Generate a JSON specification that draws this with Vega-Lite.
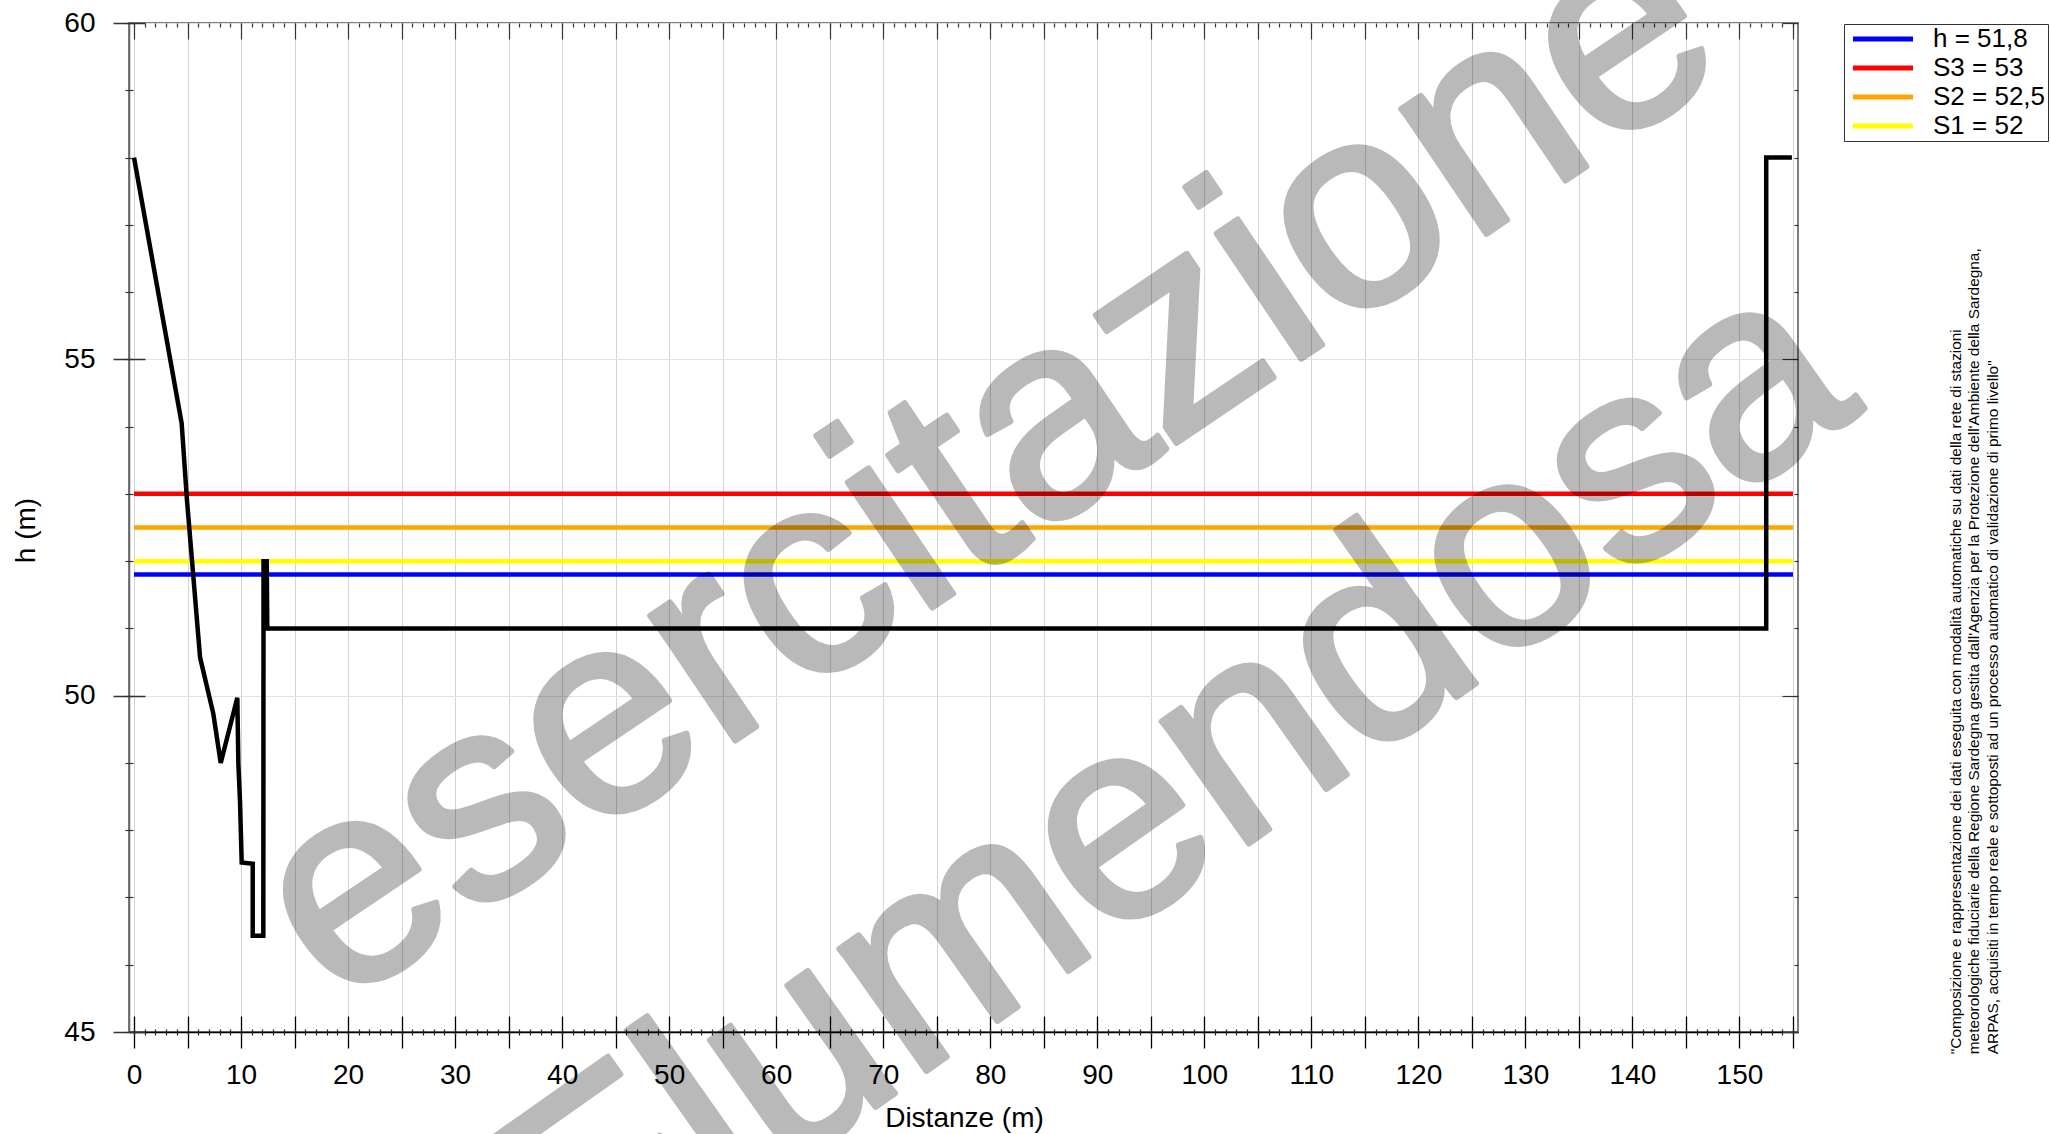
{
  "$schema": "https://vega.github.io/schema/vega-lite/v6.json",
  "width": 1669,
  "height": 1009,
  "autosize": {"type": "none"},
  "padding": {"left": 129, "top": 23, "right": 253, "bottom": 102},
  "background": "white",
  "config": {
    "view": {"stroke": "#555555", "strokeWidth": 1.5},
    "axis": {"labelFont": "Liberation Sans", "titleFont": "Liberation Sans", "labelColor": "#000000", "titleColor": "#000000", "tickColor": "#333333", "tickWidth": 1.2, "titleFontWeight": "normal"},
    "legend": {"labelFont": "Liberation Sans"}
  },
  "resolve": {"axis": {"x": "independent", "y": "independent"}},
  "layer": [
    {
      "data": {"values": [
        {"label": "h = 51,8", "h": 51.8},
        {"label": "S3 = 53", "h": 53},
        {"label": "S2 = 52,5", "h": 52.5},
        {"label": "S1 = 52", "h": 52}
      ]},
      "mark": {"type": "rule", "strokeWidth": 4.5},
      "encoding": {
        "x": {"datum": 0, "type": "quantitative",
          "scale": {"domain": [-0.47, 155.47], "nice": false, "zero": false},
          "axis": {"orient": "bottom", "values": [0,5,10,15,20,25,30,35,40,45,50,55,60,65,70,75,80,85,90,95,100,105,110,115,120,125,130,135,140,145,150,155],
            "labelExpr": "datum.value % 10 === 0 ? datum.label : ''",
            "ticks": false, "tickSize": 0, "domain": true, "domainColor": "#000000", "domainWidth": 1.5,
            "grid": true, "gridColor": "#d4d4d4", "gridWidth": 1,
            "labelFontSize": 28, "labelPadding": 29, "labelFlush": false, "labelOverlap": false, "labelBaseline": "top",
            "title": "Distanze (m)", "titleFontSize": 28, "titleX": 835, "titleY": 86, "titleBaseline": "middle", "titleAlign": "center"}
        },
        "x2": {"datum": 155},
        "y": {"field": "h", "type": "quantitative",
          "scale": {"domain": [45, 60], "nice": false, "zero": false},
          "axis": {"orient": "left", "values": [45, 50, 55, 60], "ticks": false, "tickSize": 0,
            "domain": true, "domainColor": "#666666", "domainWidth": 1.5,
            "grid": true, "gridColor": "#e2e2e2", "gridWidth": 1,
            "labelFontSize": 28, "labelPadding": 34, "labelFlush": false, "labelOverlap": false,
            "title": "h (m)", "titleFontSize": 28, "titleX": -103, "titleY": 507, "titleAngle": -90, "titleBaseline": "middle", "titleAlign": "center"}
        },
        "color": {"field": "label", "type": "nominal",
          "scale": {"domain": ["h = 51,8", "S3 = 53", "S2 = 52,5", "S1 = 52"], "range": ["#0000ff", "#ff0000", "#ffa500", "#ffff00"]},
          "legend": {"orient": "none", "legendX": 1715, "legendY": 1, "title": null,
            "symbolType": "M-3,0H3", "symbolSize": 400, "symbolStrokeWidth": 5,
            "symbolOffset": 24, "labelOffset": 37, "labelFontSize": 26, "labelColor": "#000000", "labelLimit": 400,
            "strokeColor": "#333333", "padding": 2, "rowPadding": 3, "fillColor": "white"}
        }
      }
    },
    {
      "data": {"values": [
        {"i": 0, "x": 0.0, "h": 58.0},
        {"i": 1, "x": 4.45, "h": 54.05},
        {"i": 2, "x": 4.95, "h": 52.9},
        {"i": 3, "x": 6.17, "h": 50.57},
        {"i": 4, "x": 7.41, "h": 49.73},
        {"i": 5, "x": 8.1, "h": 49.0},
        {"i": 6, "x": 9.65, "h": 49.97},
        {"i": 7, "x": 9.75, "h": 48.98},
        {"i": 8, "x": 9.9, "h": 48.44},
        {"i": 9, "x": 10.06, "h": 47.52},
        {"i": 10, "x": 11.09, "h": 47.5},
        {"i": 11, "x": 11.09, "h": 46.43},
        {"i": 12, "x": 12.08, "h": 46.43},
        {"i": 13, "x": 12.1, "h": 52.0},
        {"i": 14, "x": 12.4, "h": 52.0},
        {"i": 15, "x": 12.45, "h": 51.0},
        {"i": 16, "x": 152.5, "h": 51.0},
        {"i": 17, "x": 152.5, "h": 58.0},
        {"i": 18, "x": 154.9, "h": 58.0}
      ]},
      "mark": {"type": "line", "color": "#000000", "strokeWidth": 4.5, "strokeJoin": "miter"},
      "encoding": {
        "x": {"field": "x", "type": "quantitative",
          "axis": {"orient": "bottom", "values": [0,5,10,15,20,25,30,35,40,45,50,55,60,65,70,75,80,85,90,95,100,105,110,115,120,125,130,135,140,145,150,155],
            "labels": false, "domain": false, "grid": false, "ticks": true, "tickSize": 32, "offset": -16, "tickColor": "#000000", "tickWidth": 1.3, "title": null}
        },
        "y": {"field": "h", "type": "quantitative",
          "axis": {"orient": "left", "values": [45, 50, 55, 60], "labels": false, "domain": false, "grid": false, "ticks": true, "tickSize": 32, "offset": -16, "tickColor": "#333333", "tickWidth": 1.3, "title": null}
        },
        "order": {"field": "i", "type": "quantitative"}
      }
    },
    {
      "data": {"values": [{}]},
      "mark": {"type": "text", "text": "esercitazione", "font": "Liberation Sans", "fontSize": 286, "angle": -34, "align": "center", "baseline": "middle", "color": "#000000", "stroke": "#000000", "strokeWidth": 6, "strokeJoin": "round", "opacity": 0.27},
      "encoding": {
        "x": {"datum": 79.7, "type": "quantitative",
          "axis": {"orient": "bottom", "values": [0,1,2,3,4,5,6,7,8,9,10,11,12,13,14,15,16,17,18,19,20,21,22,23,24,25,26,27,28,29,30,31,32,33,34,35,36,37,38,39,40,41,42,43,44,45,46,47,48,49,50,51,52,53,54,55,56,57,58,59,60,61,62,63,64,65,66,67,68,69,70,71,72,73,74,75,76,77,78,79,80,81,82,83,84,85,86,87,88,89,90,91,92,93,94,95,96,97,98,99,100,101,102,103,104,105,106,107,108,109,110,111,112,113,114,115,116,117,118,119,120,121,122,123,124,125,126,127,128,129,130,131,132,133,134,135,136,137,138,139,140,141,142,143,144,145,146,147,148,149,150,151,152,153,154,155],
            "labels": false, "domain": false, "grid": false, "ticks": true, "tickSize": 6, "offset": -3, "tickColor": "#222222", "tickWidth": 1.2, "title": null}
        },
        "y": {"datum": 53.4, "type": "quantitative",
          "axis": {"orient": "left", "values": [45,46,47,48,49,50,51,52,53,54,55,56,57,58,59,60], "labels": false, "domain": false, "grid": false, "ticks": true, "tickSize": 8, "offset": -4, "tickColor": "#333333", "tickWidth": 1.2, "title": null}
        }
      }
    },
    {
      "data": {"values": [{}]},
      "mark": {"type": "text", "text": "Flumendosa", "font": "Liberation Sans", "fontSize": 284, "angle": -35.2, "align": "center", "baseline": "middle", "color": "#000000", "stroke": "#000000", "strokeWidth": 6, "strokeJoin": "round", "opacity": 0.27},
      "encoding": {
        "x": {"datum": 97.5, "type": "quantitative",
          "axis": {"orient": "top", "values": [0,5,10,15,20,25,30,35,40,45,50,55,60,65,70,75,80,85,90,95,100,105,110,115,120,125,130,135,140,145,150,155],
            "labels": false, "domain": false, "grid": false, "ticks": true, "tickSize": 16, "offset": -16, "tickColor": "#333333", "tickWidth": 1.2, "title": null}
        },
        "y": {"datum": 48.6, "type": "quantitative",
          "axis": {"orient": "right", "values": [45, 50, 55, 60], "labels": false, "domain": false, "grid": false, "ticks": true, "tickSize": 16, "offset": -16, "tickColor": "#333333", "tickWidth": 1.2, "title": null}
        }
      }
    },
    {
      "data": {"values": [{}]},
      "mark": {"type": "text", "text": ["\"Composizione e rappresentazione dei dati eseguita con modalità automatiche su dati della rete di stazioni", "meteorologiche fiduciarie della Regione Sardegna gestita dall'Agenzia per la Protezione dell'Ambiente della Sardegna,", "ARPAS, acquisiti in tempo reale e sottoposti ad un processo automatico di validazione di primo livello\""], "font": "Liberation Sans", "fontSize": 15.4, "lineHeight": 18.5, "angle": -90, "align": "left", "baseline": "middle", "color": "#000000"},
      "encoding": {
        "x": {"datum": 170.2, "type": "quantitative",
          "axis": {"orient": "top", "values": [0,1,2,3,4,5,6,7,8,9,10,11,12,13,14,15,16,17,18,19,20,21,22,23,24,25,26,27,28,29,30,31,32,33,34,35,36,37,38,39,40,41,42,43,44,45,46,47,48,49,50,51,52,53,54,55,56,57,58,59,60,61,62,63,64,65,66,67,68,69,70,71,72,73,74,75,76,77,78,79,80,81,82,83,84,85,86,87,88,89,90,91,92,93,94,95,96,97,98,99,100,101,102,103,104,105,106,107,108,109,110,111,112,113,114,115,116,117,118,119,120,121,122,123,124,125,126,127,128,129,130,131,132,133,134,135,136,137,138,139,140,141,142,143,144,145,146,147,148,149,150,151,152,153,154,155],
            "labels": false, "domain": false, "grid": false, "ticks": true, "tickSize": 4, "offset": -4, "tickColor": "#333333", "tickWidth": 1.2, "title": null}
        },
        "y": {"datum": 44.67, "type": "quantitative",
          "axis": {"orient": "right", "values": [45,46,47,48,49,50,51,52,53,54,55,56,57,58,59,60], "labels": false, "domain": false, "grid": false, "ticks": true, "tickSize": 4, "offset": -4, "tickColor": "#333333", "tickWidth": 1.2, "title": null}
        }
      }
    }
  ]
}
